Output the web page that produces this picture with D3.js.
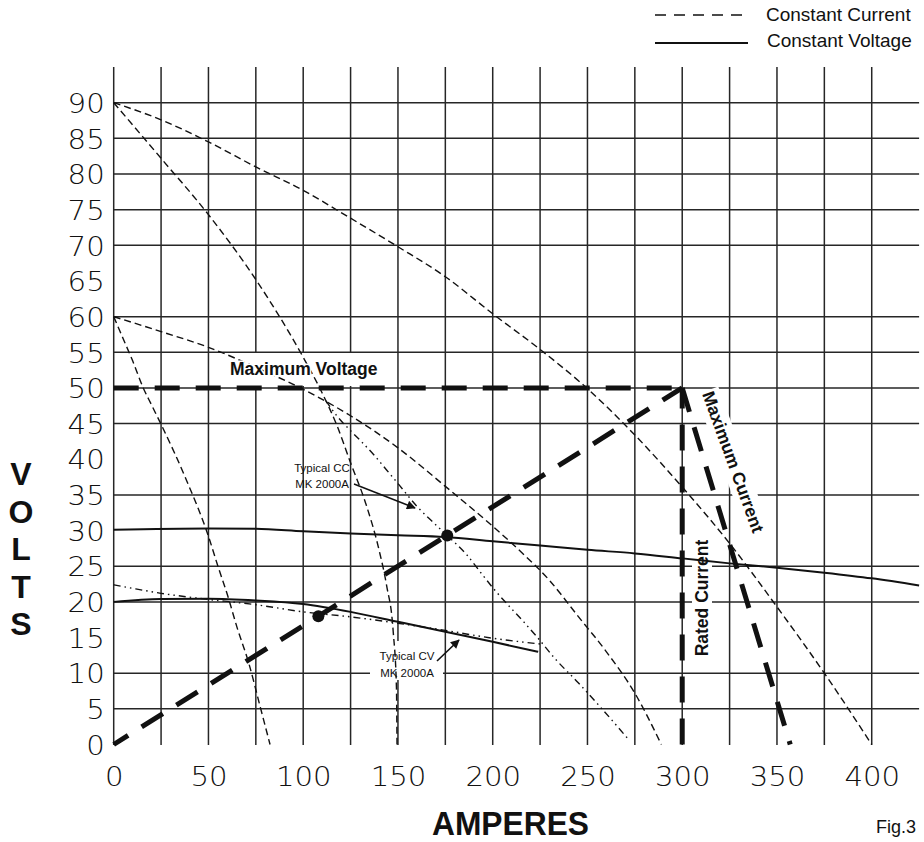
<!DOCTYPE html>
<html>
<head>
<meta charset="utf-8">
<script src="https://cdn.jsdelivr.net/npm/d3@7"></script>
<style>
  html, body { margin: 0; padding: 0; background: #fff; }
  svg { display: block; }
  .tick-num { font-family: "DejaVu Sans", sans-serif; font-weight: 200; font-size: 27px; fill: #111; }
  .bold-lbl { font-family: "Liberation Sans", Arial, sans-serif; font-weight: bold; font-size: 17.5px; fill: #111; }
  .small-lbl { font-family: "Liberation Sans", Arial, sans-serif; font-size: 11.5px; fill: #111; }
  .legend-lbl { font-family: "Liberation Sans", Arial, sans-serif; font-size: 19px; fill: #111; }
</style>
</head>
<body>
<svg id="chart" width="924" height="842"></svg>
<script>
// Welder output characteristics: volts against amperes

const xTickLabels = [0, 50, 100, 150, 200, 250, 300, 350, 400];
const yTickLabels = [0, 5, 10, 15, 20, 25, 30, 35, 40, 45, 50, 55, 60, 65, 70, 75, 80, 85, 90];
const gridAmps = [0, 25, 50, 75, 100, 125, 150, 175, 200, 225, 250, 275, 300, 325, 350, 375, 400];
const gridVolts = [5, 10, 20, 25, 35, 45, 50, 55, 60, 70, 75, 80, 85, 90];

// constant-current curves [amperes, volts]
const ccHigh90 = [[0, 90], [25, 87.6], [50, 84.5], [75, 81], [100, 77.7], [125, 73.8], [150, 69.8], [175, 65.6], [200, 60.4], [225, 55.4], [250, 49.9], [275, 43.4], [300, 36.1], [325, 28.2], [350, 19.3], [375, 10], [400, 0]];
const ccLow90 = [[0, 90], [25, 82.2], [50, 74.3], [75, 65.2], [100, 54.3], [110, 49.3], [118, 44.6], [125, 39.5], [133, 33.8], [140, 27.3], [144, 22.3], [147.5, 15.8], [149.2, 8], [149.5, 0]];
const ccHigh60 = [[0, 60], [25, 57.9], [50, 55.7], [75, 52.9], [100, 49.8], [125, 46.1], [150, 41.6], [175, 36.2], [200, 30.6], [215, 27], [230, 23], [245, 18], [260, 13], [275, 7.2], [289, 0]];
const ccLow60 = [[0, 60], [5, 56.9], [10, 53.8], [15.6, 50], [20, 47.6], [25, 44.9], [38.5, 37], [50, 29.2], [55, 25], [60, 21], [65, 16.5], [71.5, 11.2], [77.3, 5.3], [82.5, 0]];
const typicalCC = [[112, 48.2], [118, 46], [125, 44], [131, 42.4], [137, 40.7], [144, 38.5], [150, 36.6], [160, 33.4], [168, 31.3], [176, 29.3], [186, 26.7], [194, 24], [200, 22], [209, 19.3], [216, 17.3], [223, 15.2], [233, 12], [245, 8.7], [257, 5.2], [272, 0.6]];

// constant-voltage curves
const cv30 = [[0, 30.1], [50, 30.3], [75, 30.25], [100, 29.9], [125, 29.6], [150, 29.35], [175, 29.1], [200, 28.5], [225, 27.9], [250, 27.3], [275, 26.8], [300, 26.1], [325, 25.4], [350, 24.8], [375, 24.1], [400, 23.3], [425, 22.3]];
const cv20 = [[0, 20], [25, 20.4], [50, 20.45], [75, 20.2], [100, 19.7], [125, 18.6], [150, 17.2], [175, 15.8], [200, 14.4], [224, 13]];
const typicalCV = [[0, 22.4], [10, 21.9], [25, 21.2], [45, 20.5], [75, 19.6], [100, 18.6], [125, 17.9], [150, 17], [175, 16], [200, 14.9], [225, 14.1]];

// rating envelope
const maxVoltage = [[0, 50], [300, 50]];
const loadLine = [[0, 0], [300, 50]];
const ratedCurrent = [[300, 0], [300, 50]];
const maxCurrent = [[300, 50], [357, 0]];
const operatingPoints = [[108, 18], [176, 29.3]];

const svg = d3.select("#chart");
const x = d3.scaleLinear().domain([0, 425]).range([113.7, 919.1]);
const y = d3.scaleLinear().domain([0, 90]).range([744.5, 102.7]);

// grid
const grid = svg.append("g").attr("stroke", "#262626").attr("stroke-width", 1.5);
grid.selectAll("line.v").data(gridAmps).join("line")
  .attr("x1", d => x(d)).attr("x2", d => x(d))
  .attr("y1", y(95)).attr("y2", y(0) + 0.5);
grid.selectAll("line.h").data(gridVolts).join("line")
  .attr("x1", x(0)).attr("x2", x(425))
  .attr("y1", d => y(d)).attr("y2", d => y(d));

// axis tick labels
const yAxis = d3.axisLeft(y).tickValues(yTickLabels).tickSize(0).tickPadding(0);
const yg = svg.append("g").attr("transform", `translate(${x(0) - 9},0)`).call(yAxis);
yg.select(".domain").remove();
yg.selectAll("text").attr("class", "tick-num").attr("font-family", null).attr("font-size", null)
  .attr("fill", null).attr("dy", "0.36em").attr("x", 0)
  .attr("transform", "scale(1.08,1)");

const xAxis = d3.axisBottom(x).tickValues(xTickLabels).tickSize(0).tickPadding(0);
const xg = svg.append("g").attr("transform", `translate(0,${y(0) + 41})`).call(xAxis);
xg.select(".domain").remove();
xg.selectAll("text").attr("class", "tick-num").attr("font-family", null).attr("font-size", null)
  .attr("fill", null).attr("dy", 0).attr("y", 0)
  .attr("transform", "scale(1.08,1)");

// axis titles
svg.append("text").attr("x", 510.5).attr("y", 835)
  .attr("text-anchor", "middle")
  .style("font-family", "Liberation Sans, Arial, sans-serif").style("font-weight", "bold")
  .style("font-size", "33px").attr("textLength", 157).attr("lengthAdjust", "spacingAndGlyphs")
  .attr("fill", "#111").text("AMPERES");

const voltsLetters = ["V", "O", "L", "T", "S"];
svg.append("g").selectAll("text").data(voltsLetters).join("text")
  .attr("x", 21).attr("y", (d, i) => 485 + i * 37.5)
  .attr("text-anchor", "middle")
  .style("font-family", "Liberation Sans, Arial, sans-serif").style("font-weight", "bold")
  .style("font-size", "32px").attr("fill", "#111").text(d => d);

svg.append("text").attr("x", 876).attr("y", 833)
  .style("font-family", "Liberation Sans, Arial, sans-serif").style("font-size", "18px")
  .attr("fill", "#111").text("Fig.3");

// white backing behind the in-plot labels
const backs = svg.append("g").attr("fill", "#fff");
backs.append("rect").attr("x", 225).attr("y", 353).attr("width", 156).attr("height", 33);
backs.append("rect").attr("x", 370).attr("y", 641).attr("width", 73).attr("height", 39);
backs.append("rect").attr("x", 692).attr("y", 538).attr("width", 20).attr("height", 121);
backs.append("rect").attr("x", -76).attr("y", -12).attr("width", 152).attr("height", 24)
  .attr("transform", "translate(733,462) rotate(70)");

// curves
const smooth = d3.line().x(d => x(d[0])).y(d => y(d[1])).curve(d3.curveMonotoneX);
const straight = d3.line().x(d => x(d[0])).y(d => y(d[1]));

const curves = svg.append("g").attr("fill", "none").attr("stroke", "#111");
[ccHigh90, ccLow90, ccHigh60, ccLow60].forEach(c => {
  curves.append("path").attr("d", smooth(c)).attr("stroke-width", 1.4).attr("stroke-dasharray", "7,4");
});
[typicalCC, typicalCV].forEach(c => {
  curves.append("path").attr("d", smooth(c)).attr("stroke-width", 1.4).attr("stroke-dasharray", "7,4,1.5,4,1.5,4");
});
[cv30, cv20].forEach(c => {
  curves.append("path").attr("d", smooth(c)).attr("stroke-width", 2);
});

// rating envelope: heavy dashes
const heavy = svg.append("g").attr("fill", "none").attr("stroke", "#111").attr("stroke-width", 5);
heavy.append("path").attr("d", straight(maxVoltage)).attr("stroke-dasharray", "25,16");
heavy.append("path").attr("d", straight(loadLine)).attr("stroke-dasharray", "25,16").attr("stroke-dashoffset", 8);
heavy.append("path").attr("d", straight(ratedCurrent)).attr("stroke-dasharray", "26,16");
heavy.append("path").attr("d", straight(maxCurrent)).attr("stroke-dasharray", "25,16");

svg.append("g").selectAll("circle").data(operatingPoints).join("circle")
  .attr("cx", d => x(d[0])).attr("cy", d => y(d[1])).attr("r", 6).attr("fill", "#111");

// in-plot labels
svg.append("text").attr("class", "bold-lbl").attr("x", 230).attr("y", 375)
  .attr("stroke", "#fff").attr("stroke-width", 3).attr("paint-order", "stroke")
  .text("Maximum Voltage");
svg.append("text").attr("class", "bold-lbl").attr("text-anchor", "middle")
  .attr("transform", "translate(727.5,464) rotate(70)").text("Maximum Current");
svg.append("text").attr("class", "bold-lbl").attr("text-anchor", "middle")
  .attr("transform", "translate(708,598) rotate(-90)").text("Rated Current");

const ccLbl = svg.append("text").attr("class", "small-lbl").attr("text-anchor", "middle");
ccLbl.append("tspan").attr("x", 322).attr("y", 472).text("Typical CC");
ccLbl.append("tspan").attr("x", 322).attr("y", 488).text("MK 2000A");
const cvLbl = svg.append("text").attr("class", "small-lbl").attr("text-anchor", "middle");
cvLbl.append("tspan").attr("x", 407).attr("y", 660).text("Typical CV");
cvLbl.append("tspan").attr("x", 407).attr("y", 677).text("MK 2000A");

// pointer arrows
svg.append("defs").append("marker").attr("id", "head")
  .attr("viewBox", "0 0 10 10").attr("refX", 9).attr("refY", 5)
  .attr("markerWidth", 11).attr("markerHeight", 9).attr("markerUnits", "userSpaceOnUse")
  .attr("orient", "auto")
  .append("path").attr("d", "M0,0L10,5L0,10z").attr("fill", "#111");
svg.append("line").attr("x1", 354).attr("y1", 484).attr("x2", 415).attr("y2", 508)
  .attr("stroke", "#111").attr("stroke-width", 1.4).attr("marker-end", "url(#head)");
svg.append("line").attr("x1", 437).attr("y1", 661).attr("x2", 459).attr("y2", 640)
  .attr("stroke", "#111").attr("stroke-width", 1.6).attr("marker-end", "url(#head)");

// legend
const legend = svg.append("g");
legend.append("line").attr("x1", 655).attr("x2", 747).attr("y1", 15).attr("y2", 15)
  .attr("stroke", "#111").attr("stroke-width", 1.3).attr("stroke-dasharray", "11,8");
legend.append("line").attr("x1", 655).attr("x2", 748).attr("y1", 43).attr("y2", 43)
  .attr("stroke", "#111").attr("stroke-width", 2.2);
legend.append("text").attr("class", "legend-lbl").attr("x", 766).attr("y", 20.5).text("Constant Current");
legend.append("text").attr("class", "legend-lbl").attr("x", 767).attr("y", 46.5).text("Constant Voltage");
</script>
</body>
</html>
